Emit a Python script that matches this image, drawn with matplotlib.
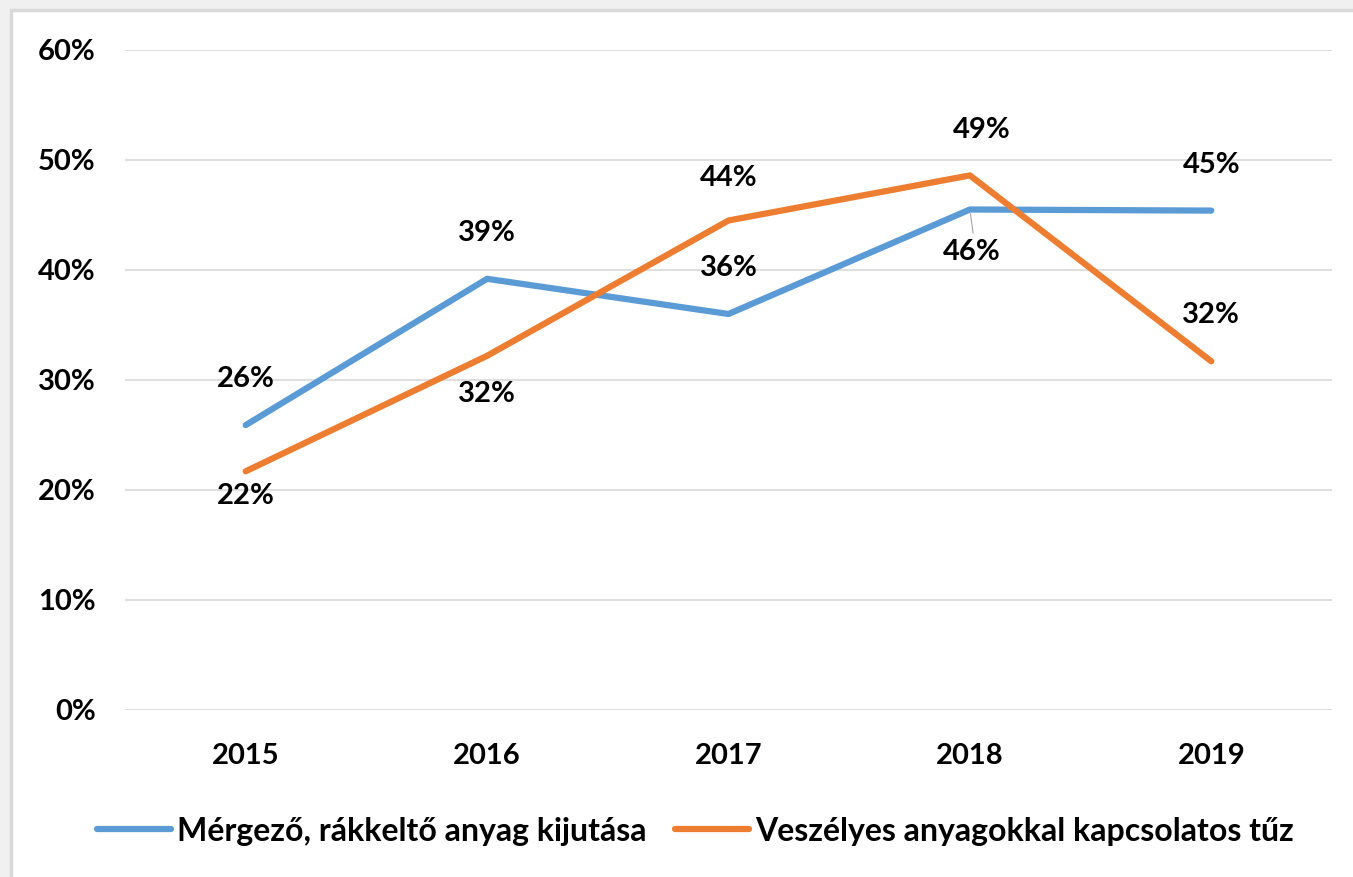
import matplotlib
matplotlib.use("Agg")
import matplotlib.pyplot as plt
from matplotlib.patches import Rectangle
from matplotlib.ticker import FuncFormatter

years = ["2015", "2016", "2017", "2018", "2019"]
mergezo = [0.259, 0.392, 0.360, 0.455, 0.454]
tuz = [0.217, 0.322, 0.445, 0.486, 0.317]
mergezo_labels = ["26%", "39%", "36%", "46%", "45%"]
tuz_labels = ["22%", "32%", "44%", "49%", "32%"]
series_names = ["Mérgező, rákkeltő anyag kijutása",
                "Veszélyes anyagokkal kapcsolatos tűz"]

W, H = 1353, 877
dpi = 100
FS = 21
plt.rcParams['font.family'] = ['Lato', 'DejaVu Sans']
plt.rcParams['font.weight'] = 'bold'

fig = plt.figure(figsize=(W / dpi, H / dpi), dpi=dpi, facecolor="#f0f0f0")
# white chart area with thin gray border (top/left visible)
fig.patches.append(Rectangle((11 / W, -0.1), 1.2, 1 - 10 / H + 0.1,
                             transform=fig.transFigure, facecolor="white",
                             edgecolor="#d9d9d9", linewidth=2.5, zorder=-5))

ax = fig.add_axes([125 / W, 1 - 710 / H, (1332 - 125) / W, (710 - 50) / H])
ax.set_facecolor("none")
ax.set_zorder(2)

x = list(range(len(years)))
blue = "#5B9BD5"
orange = "#ED7D31"
ax.plot(x, mergezo, color=blue, lw=4.5, solid_capstyle="round", zorder=3,
        label=series_names[0])
ax.plot(x, tuz, color=orange, lw=4.5, solid_capstyle="round", zorder=3,
        label=series_names[1])

ax.set_xlim(-0.5, 4.5)
ax.set_ylim(0, 0.6)
ax.set_yticks([0, 0.1, 0.2, 0.3, 0.4, 0.5, 0.6])
ax.yaxis.set_major_formatter(FuncFormatter(lambda v, p: f"{v * 100:.0f}%"))
ax.set_xticks(x)
ax.set_xticklabels(years)
ax.grid(axis="y", color="#d9d9d9", lw=1.2)
ax.set_axisbelow(True)
for s in ax.spines.values():
    s.set_visible(False)
ax.tick_params(length=0, labelsize=FS)
ax.tick_params(axis="y", pad=21)
ax.tick_params(axis="x", pad=24)

# data label offsets in pixels (dx, dy), +dy = up
blue_off = [(0, 46), (0, 46), (0, 46), (2, -43), (0, 46)]
orange_off = [(0, -25), (0, -38), (0, 43), (12, 45), (0, 46)]
for i in x:
    dx, dy = blue_off[i]
    ax.annotate(mergezo_labels[i], (i, mergezo[i]),
                xytext=(dx * 0.72, dy * 0.72), textcoords="offset points",
                ha="center", va="center", fontsize=FS, fontweight="bold")
    dx, dy = orange_off[i]
    ax.annotate(tuz_labels[i], (i, tuz[i]),
                xytext=(dx * 0.72, dy * 0.72), textcoords="offset points",
                ha="center", va="center", fontsize=FS, fontweight="bold")

# leader line for the 2018 blue label
ax.annotate("", (3, mergezo[3]), xytext=(2.3, -17), textcoords="offset points",
            arrowprops=dict(arrowstyle="-", color="#a6a6a6", lw=0.8,
                            shrinkA=0, shrinkB=3))

fig.legend(loc="center", bbox_to_anchor=(0.514, 1 - 831 / H), ncol=2,
           frameon=False, fontsize=23, handlelength=2.3, handletextpad=0.2,
           columnspacing=0.9)

fig.savefig("out.png", dpi=dpi, facecolor=fig.get_facecolor())
